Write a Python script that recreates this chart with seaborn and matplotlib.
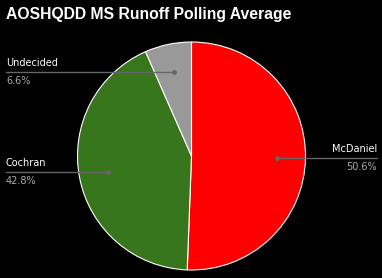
import matplotlib
matplotlib.use("Agg")
import matplotlib.pyplot as plt
import matplotlib.transforms as mtransforms
import numpy as np
import seaborn as sns

sns.set_theme(style="dark")
plt.rcParams['font.family'] = ['Liberation Sans', 'DejaVu Sans']

title = "AOSHQDD MS Runoff Polling Average"
categories = ["McDaniel", "Cochran", "Undecided"]
values = [50.6, 42.8, 6.6]
pct_labels = ["50.6%", "42.8%", "6.6%"]
colors = ["#ff0000", "#38761d", "#999999"]

W, H = 382, 278
fig = plt.figure(figsize=(W / 100, H / 100), dpi=100, facecolor="black")
cx, cy, R = 191.5, 156, 114
ax = fig.add_axes([(cx - R) / W, (H - cy - R) / H, 2 * R / W, 2 * R / H])
ax.set_facecolor("black")

wedges, _ = ax.pie(values, colors=colors, startangle=90, counterclock=False,
                   wedgeprops=dict(edgecolor="white", linewidth=0.8))
ax.set_xlim(-1, 1)
ax.set_ylim(-1, 1)
ax.set_aspect("equal")
ax.axis("off")

trans = mtransforms.blended_transform_factory(fig.transFigure, ax.transData)
left_x = 6 / W
right_x = 377 / W
off = 9 / R  # text offset in data units
for w, name, pct in zip(wedges, categories, pct_labels):
    ang = np.deg2rad((w.theta1 + w.theta2) / 2)
    px, py = 0.75 * np.cos(ang), 0.75 * np.sin(ang)
    ax.plot([px], [py], "o", color="#666666", markersize=2.5, clip_on=False, zorder=5)
    if px >= 0:
        ex, ha = right_x, "right"
    else:
        ex, ha = left_x, "left"
    disp_dot = ax.transData.transform((px, py))
    dot_fig_x = fig.transFigure.inverted().transform(disp_dot)[0]
    ax.plot([dot_fig_x, ex], [py, py], color="#666666", linewidth=1.0,
            transform=trans, clip_on=False, zorder=4)
    ax.text(ex, py + off, name, transform=trans, ha=ha, va="center",
            color="white", fontsize=7, family=["DejaVu Sans"])
    ax.text(ex, py - off, pct, transform=trans, ha=ha, va="center",
            color="#aaaaaa", fontsize=7, family=["DejaVu Sans"])

fig.text(6 / W, 1 - 15 / H, title, ha="left", va="center", color="white",
         fontsize=11.3, fontweight="bold")

fig.savefig("out.png", dpi=100, facecolor="black")
